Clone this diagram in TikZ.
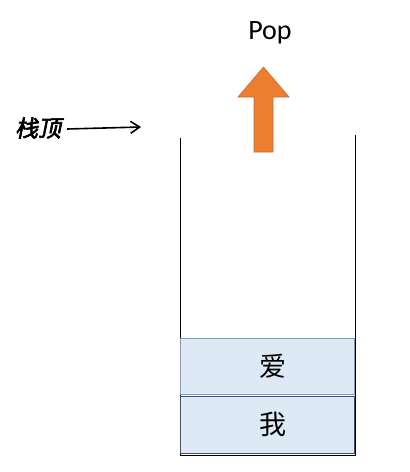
\documentclass[tikz,border=0pt]{standalone}
\usepackage{fontspec}
\usetikzlibrary{arrows.meta,positioning}
\newfontfamily\cjk{Noto Sans CJK SC}
\newfontfamily\cjktop[FakeSlant=0.2,FakeBold=2.5]{Noto Sans CJK SC}
\newfontfamily\popfont{Carlito}
\definecolor{cellfill}{HTML}{DEE9F6}
\definecolor{ailine}{HTML}{7F9CBD}
\definecolor{woline}{HTML}{3A5576}
\definecolor{popfill}{HTML}{ED7D31}
\definecolor{popline}{HTML}{C8692A}

\begin{document}
\begin{tikzpicture}[
  x=1pt, y=-1pt,
  cell/.style={draw=#1, fill=cellfill, minimum width=174pt, minimum height=56pt, inner sep=0pt, font=\cjk\fontsize{27}{27}\selectfont},
  arrow/.style={-{Straight Barb[length=9pt,width=12pt]}, line width=1.6pt}
]
\useasboundingbox (0,0) rectangle (410,472);

% stack walls
\draw[line width=0.8pt] (180,138) -- (180,455) -- (355,455) -- (355,135);

% the two items
\node[cell=ailine] (ai) at (267,366) {\hspace{12pt}爱};
\node[cell=woline, line width=0.8pt, minimum height=57pt] (wo) at (267,424.5) {\hspace{12pt}我};

% pop arrow and label
\node[font=\popfont\fontsize{28}{28}\selectfont] (pop) at (270,33) {Pop};
\draw[fill=popfill, draw=popline, line width=0.6pt]
  (254,152) -- (254,97) -- (238,97) -- (263.5,67) -- (289,97) -- (273,97) -- (273,152) -- cycle;

% top pointer
\node[font=\cjktop\fontsize{23}{23}\selectfont, inner sep=0pt] (top) at (38,128) {栈顶};
\coordinate (topend) at (141,127);
\draw[arrow] ([xshift=6pt,yshift=-1pt]top.east) -- (topend);

\end{tikzpicture}
\end{document}
